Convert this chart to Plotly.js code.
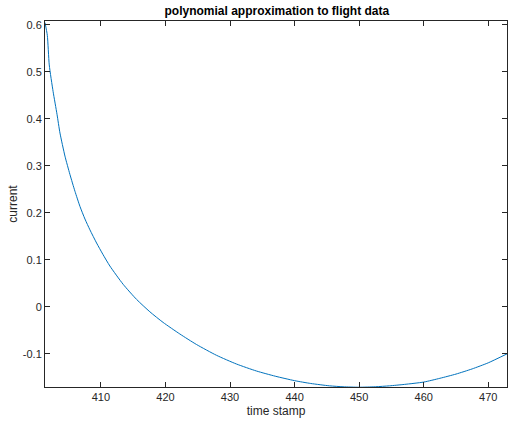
<!DOCTYPE html>
<html>
<head>
<meta charset="utf-8">
<script src="https://cdn.plot.ly/plotly-3.0.1.min.js"></script>
<style>html,body{margin:0;padding:0;background:#fff;}#chart{width:508px;height:422px;}</style>
</head>
<body>
<div id="chart"></div>
<script>
const timeStamp = [401.34, 401.7, 402.0, 402.6, 403.2, 403.66, 404.43, 405.2, 405.98, 406.75, 407.53, 408.3, 409.33, 410.3, 411.39, 413.45, 415.52, 417.58, 419.63, 422.22, 424.8, 427.9, 431.0, 434.1, 437, 440, 442.5, 445.4, 447.5, 450, 452.5, 454.7, 457, 460, 462.5, 465, 467.5, 470, 472.9];
const current = [0.605, 0.578, 0.515, 0.458, 0.41, 0.37, 0.321, 0.282, 0.246, 0.214, 0.187, 0.164, 0.136, 0.112, 0.087, 0.048, 0.016, -0.0104, -0.033, -0.0576, -0.080, -0.103, -0.1216, -0.1365, -0.1475, -0.157, -0.163, -0.168, -0.170, -0.171, -0.170, -0.168, -0.165, -0.160, -0.152, -0.143, -0.132, -0.119, -0.100];
const xTickVals = [410, 420, 430, 440, 450, 460, 470];
const yTickVals = [-0.1, 0, 0.1, 0.2, 0.3, 0.4, 0.5, 0.6];
const yTickText = ["-0.1", "0", "0.1", "0.2", "0.3", "0.4", "0.5", "0.6"];

const axisCommon = {
  showline: true, linecolor: '#262626', linewidth: 1, mirror: 'ticks',
  ticks: 'inside', ticklen: 5, tickcolor: '#262626', tickwidth: 1,
  showgrid: false, zeroline: false,
  tickfont: {family: 'Liberation Sans, Arial, sans-serif', size: 11, color: '#262626'}
};

Plotly.newPlot('chart', [{
  x: timeStamp, y: current, type: 'scatter', mode: 'lines',
  line: {color: '#0072BD', width: 1, shape: 'spline', smoothing: 0.6}
}], {
  width: 508, height: 422,
  margin: {l: 45, r: 1, t: 21, b: 35},
  paper_bgcolor: '#fff', plot_bgcolor: '#fff',
  showlegend: false,
  title: {text: '<b>polynomial approximation to flight data</b>', font: {family: 'Liberation Sans, Arial, sans-serif', size: 12, color: '#000'}, x: 0.545, xanchor: 'center', y: 0.985, yanchor: 'top'},
  xaxis: Object.assign({}, axisCommon, {
    range: [401.34, 472.9], tickvals: xTickVals,
    title: {text: 'time stamp', font: {family: 'Liberation Sans, Arial, sans-serif', size: 12, color: '#262626'}, standoff: 4}
  }),
  yaxis: Object.assign({}, axisCommon, {
    range: [-0.1705, 0.6085], tickvals: yTickVals, ticktext: yTickText,
    title: {text: 'current', font: {family: 'Liberation Sans, Arial, sans-serif', size: 12, color: '#262626'}, standoff: 2}
  })
}, {displayModeBar: false, staticPlot: true});
</script>
</body>
</html>
